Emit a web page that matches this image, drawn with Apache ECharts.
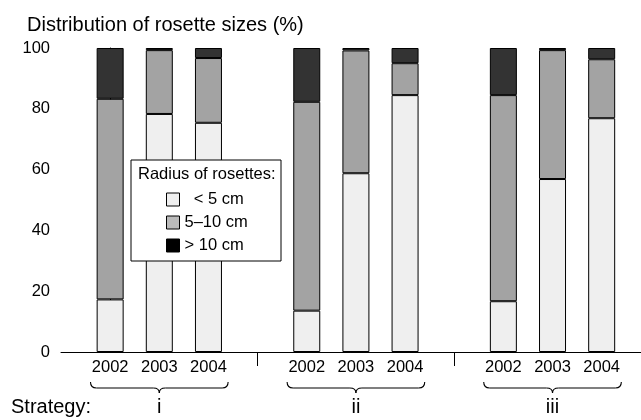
<!DOCTYPE html>
<html>
<head>
<meta charset="utf-8">
<script src="https://cdn.jsdelivr.net/npm/echarts@6/dist/echarts.min.js"></script>
<style>
html,body{margin:0;padding:0;background:#fff;}
#main{width:641px;height:420px;}
</style>
</head>
<body>
<div id="main"></div>
<script>
var strategies = ['i', 'ii', 'iii'];
var years = ['2002', '2003', '2004'];
var sizeNames = ['< 5 cm', '5\u201310 cm', '> 10 cm'];
// per strategy, per year (%)
var small  = [17.3, 78.3, 75.4,  13.6, 58.8, 84.5,  16.7, 56.9, 76.9];
var medium = [66.0, 21.0, 21.3,  68.7, 40.4, 10.5,  67.8, 42.4, 19.4];
var large  = [16.7,  0.7,  3.3,  17.7,  0.8,  5.0,  15.5,  0.7,  3.7];

var font = 'Liberation Sans, Arial, Helvetica, sans-serif';
var barColors = ['#efefef', '#a3a3a3', '#333333'];
var legendColors = ['#efefef', '#bbbbbb', '#000000'];

// slot of each bar on x: groups of 3 with one empty slot in between
function slot(g, y){ return g * 4 + y; }
var positions = [], posLabel = {};
strategies.forEach(function(s, g){
	years.forEach(function(yr, y){
		positions.push(slot(g, y));
		posLabel[slot(g, y)] = yr;
	});
});
var groupCenters = strategies.map(function(s, g){ return slot(g, 1); });
var separators = [3, 7];

// value first so the stack is done on y
function toData(arr){
	return arr.map(function(v, i){ return [v, positions[i]]; });
}

var chart = echarts.init(document.getElementById('main'));

var seriesValues = [small, medium, large];
var series = seriesValues.map(function(arr, k){
	return {
		name: sizeNames[k],
		type: 'bar',
		stack: 'total',
		barWidth: 27,
		encode: {x: 1, y: 0},
		data: toData(arr),
		itemStyle: {color: barColors[k], borderColor: '#000', borderWidth: 1},
		emphasis: {disabled: true}
	};
});

chart.setOption({
	animation: false,
	textStyle: {fontFamily: font},
	title: {
		text: 'Distribution of rosette sizes (%)',
		left: 22, top: 10,
		textStyle: {fontFamily: font, fontSize: 20, fontWeight: 'normal', color: '#000'}
	},
	grid: {left: 61, right: 0, top: 48, bottom: 68},
	legend: {
		orient: 'vertical',
		left: 161, top: 186,
		itemWidth: 13, itemHeight: 13, itemGap: 6,
		z: 10,
		textStyle: {fontFamily: font, fontSize: 16.5, color: '#000'},
		data: sizeNames.map(function(n, k){
			return {name: n, icon: 'rect', itemStyle: {color: legendColors[k], borderColor: '#000', borderWidth: 1}};
		}),
		formatter: function(name){ return name === sizeNames[0] ? '  ' + name : name; },
		selectedMode: false
	},
	xAxis: [{
		type: 'value',
		min: -1, max: 10.8,
		splitLine: {show: false},
		axisLine: {show: true, lineStyle: {color: '#000', width: 1}},
		axisTick: {show: true, customValues: separators, length: 14, lineStyle: {color: '#000'}},
		axisLabel: {
			customValues: positions,
			margin: 7,
			fontSize: 16.5, color: '#000', fontFamily: font,
			formatter: function(v){ return posLabel[v] || ''; }
		}
	}, {
		type: 'value',
		position: 'bottom',
		offset: 45,
		min: -1, max: 10.8,
		splitLine: {show: false},
		axisLine: {show: false},
		axisTick: {show: false},
		axisLabel: {
			customValues: groupCenters,
			margin: 0,
			fontSize: 20, color: '#000', fontFamily: font,
			formatter: function(v){ return strategies[(v - 1) / 4]; }
		}
	}],
	yAxis: {
		type: 'value',
		min: 0, max: 100, interval: 20,
		splitLine: {show: false},
		axisLine: {show: true, lineStyle: {color: '#000', width: 1}},
		axisTick: {show: true, length: 5, lineStyle: {color: '#000'}},
		axisLabel: {margin: 11, fontSize: 16.5, color: '#000', fontFamily: font}
	},
	series: series
});

// braces under each group + legend frame
var graphics = [{
	type: 'rect', z: 5,
	shape: {x: 131, y: 160, width: 150, height: 101},
	style: {fill: '#fff', stroke: '#000', lineWidth: 1}
}, {
	type: 'text', z: 11, left: 138, top: 166,
	style: {text: 'Radius of rosettes:', fill: '#000', font: '16.5px ' + font}
}, {
	type: 'text', z: 11, left: 11, top: 397,
	style: {text: 'Strategy:', fill: '#000', font: '20px ' + font}
}];
var braceStyle = {fill: 'none', stroke: '#000', lineWidth: 1.1};
strategies.forEach(function(s, g){
	var x0 = chart.convertToPixel({xAxisIndex: 0}, slot(g, 0) - 0.4);
	var x1 = chart.convertToPixel({xAxisIndex: 0}, slot(g, 2) + 0.4);
	var xc = (x0 + x1) / 2;
	var y0 = 382, y1 = 388, y2 = 393, r = 6;
	graphics.push(
		{type: 'bezierCurve', z: 5, shape: {x1: x0, y1: y0, x2: x0 + r, y2: y1, cpx1: x0, cpy1: y1}, style: braceStyle},
		{type: 'line', z: 5, shape: {x1: x0 + r, y1: y1, x2: xc - r, y2: y1}, style: braceStyle},
		{type: 'bezierCurve', z: 5, shape: {x1: xc - r, y1: y1, x2: xc, y2: y2, cpx1: xc, cpy1: y1}, style: braceStyle},
		{type: 'bezierCurve', z: 5, shape: {x1: xc, y1: y2, x2: xc + r, y2: y1, cpx1: xc, cpy1: y1}, style: braceStyle},
		{type: 'line', z: 5, shape: {x1: xc + r, y1: y1, x2: x1 - r, y2: y1}, style: braceStyle},
		{type: 'bezierCurve', z: 5, shape: {x1: x1 - r, y1: y1, x2: x1, y2: y0, cpx1: x1, cpy1: y1}, style: braceStyle}
	);
});
chart.setOption({graphic: graphics});
</script>
</body>
</html>
